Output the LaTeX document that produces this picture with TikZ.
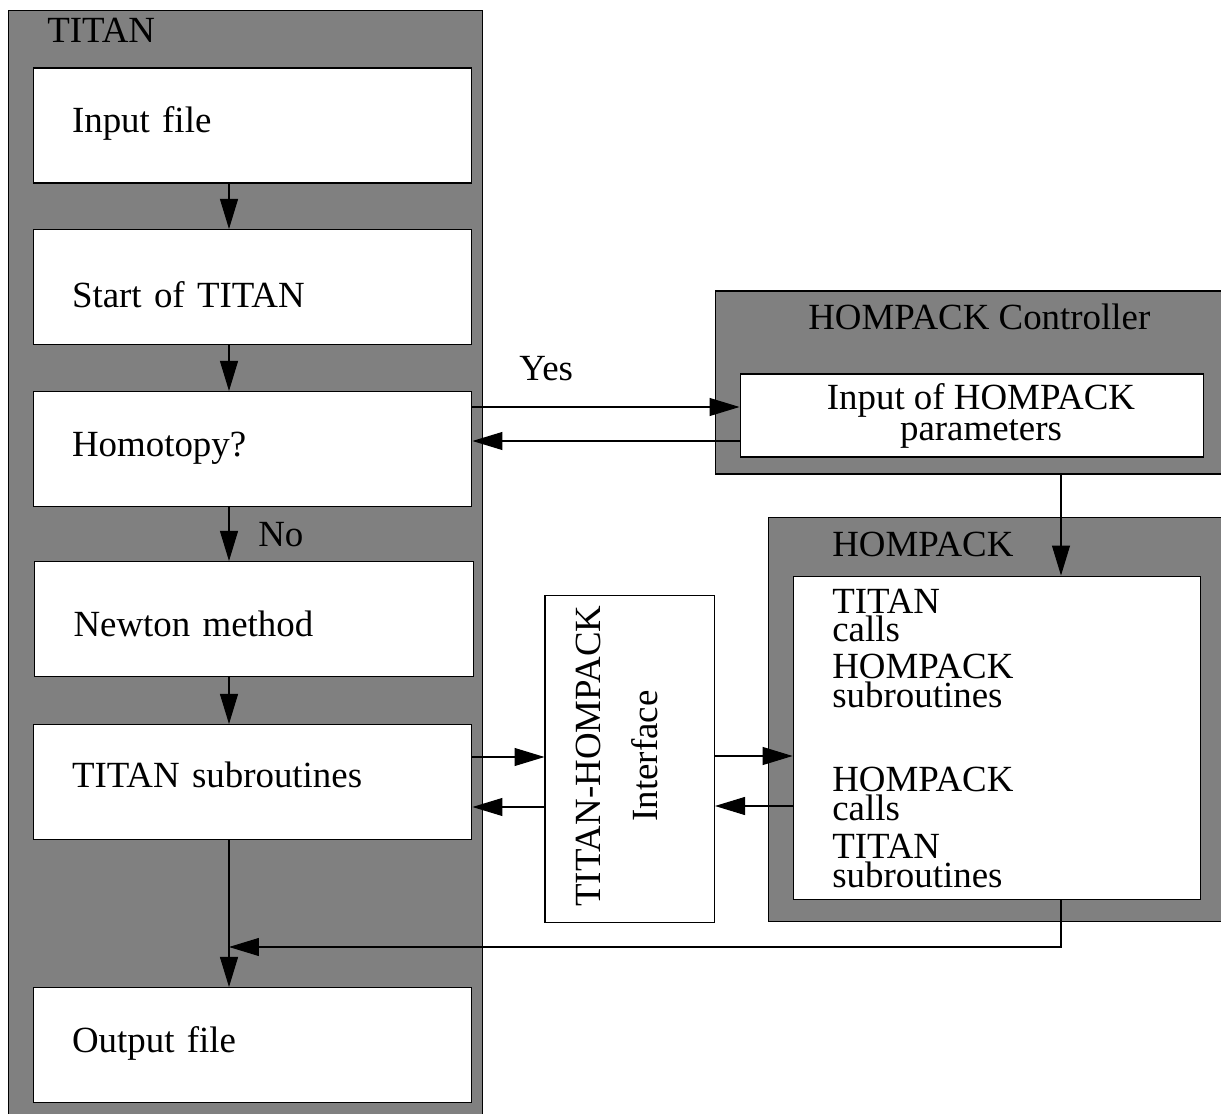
\documentclass[tikz,border=0pt]{standalone}
\usepackage{fontspec}
\setmainfont{Liberation Serif}
\usetikzlibrary{arrows.meta}
\definecolor{panelGray}{gray}{0.50}

\begin{document}
\begin{tikzpicture}[x=0.02cm, y=-0.02cm,
      font=\fontsize{21pt}{25pt}\selectfont,
      panel/.style={draw=black, fill=panelGray, line width=0.6pt, inner sep=0pt},
      stepbox/.style={draw=black, fill=white, line width=0.6pt,
                      minimum width=8.78cm, minimum height=2.3cm, text width=7.22cm,
                      inner xsep=0.78cm, inner ysep=0pt, align=left,
                      text height=0.46cm, text depth=0.16cm},
      plainbox/.style={draw=black, fill=white, line width=0.6pt, inner sep=0pt},
      lbl/.style={inner sep=0pt, anchor=base west},
      pairlbl/.style={inner sep=0pt, anchor=base west, align=left,
                      font=\fontsize{21pt}{16.2pt}\selectfont},
      flow/.style={-{Triangle[length=0.6cm, width=0.36cm]}, line width=0.6pt}]
    \clip (0,0) rectangle (1221,1114);
    \node[panel, minimum width=9.5cm, minimum height=22.4cm] (titanPanel) at (245.5,570) {};
    \node[panel, minimum width=10.49cm, minimum height=3.66cm] (ctrlPanel) at (977.75,382.5) {};
    \node[panel, minimum width=9.43cm, minimum height=8.1cm] (hpPanel) at (1004.3,719.5) {};
    \node[lbl] (titanLbl) at (47,43) {TITAN};
    \node[lbl] (ctrlLbl) at (808,330) {HOMPACK Controller};
    \node[lbl] (hpLbl) at (832,557) {HOMPACK};

    \node[stepbox] (inFile) at (252.5,125.5) {Input file};
    \node[stepbox, text height=1.0cm] (startTitan) at (252.5,287) {Start of TITAN};
    \node[stepbox] (homotopy) at (252.5,449) {Homotopy?};
    \node[stepbox, text height=0.87cm] (newton) at (254,619) {Newton method};
    \node[stepbox, text height=0.39cm] (titanSubs) at (252.5,782) {TITAN subroutines};
    \node[stepbox, text height=0.44cm] (outFile) at (252.5,1045) {Output file};

    \node[plainbox, minimum width=9.28cm, minimum height=1.66cm, align=center,
          font=\fontsize{21pt}{17.6pt}\selectfont] (hpInput) at (972,415.5)
          {\hspace*{0.36cm}Input of HOMPACK\\\hspace*{0.36cm}parameters};
    \node[plainbox, minimum width=3.39cm, minimum height=6.56cm] (iface) at (629.75,759) {};
    \node[inner sep=0pt, rotate=90, align=center,
          font=\fontsize{21pt}{32.4pt}\selectfont] (ifaceTxt) at (617,756)
          {TITAN-HOMPACK\\Interface};
    \node[plainbox, minimum width=8.15cm, minimum height=6.48cm] (hpCore) at (996.85,738) {};
    \foreach \txt/\yy [count=\k] in {{TITAN\\calls}/642, {HOMPACK\\subroutines}/707,
                                     {HOMPACK\\calls}/820, {TITAN\\subroutines}/887}
      \node[pairlbl] (hpLine\k) at (832,\yy) {\txt};

    \node[lbl] (yesLbl) at (519,381) {Yes};
    \node[lbl] (noLbl) at (258,547) {No};

    \foreach \a/\b in {inFile/startTitan, startTitan/homotopy, homotopy/newton,
                       newton/titanSubs, titanSubs/outFile}
      \draw[flow] ([xshift=-0.47cm]\a.south -| inFile.south) -- ([xshift=-0.47cm]\b.north -| inFile.north);
    \draw[flow] (homotopy.east |- 0,407) -- (hpInput.west |- 0,407);
    \draw[flow] (hpInput.west |- 0,441) -- (homotopy.east |- 0,441);
    \draw[flow] (titanSubs.east |- 0,757) -- (iface.west |- 0,757);
    \draw[flow] (iface.west |- 0,807) -- (titanSubs.east |- 0,807);
    \draw[flow] (iface.east |- 0,756) -- (hpCore.west |- 0,756);
    \draw[flow] (hpCore.west |- 0,806) -- (iface.east |- 0,806);
    \coordinate (ctrlDrop) at (1061,474);
    \draw[flow] (ctrlPanel.south -| ctrlDrop) -- (hpCore.north -| ctrlDrop);
    \coordinate (mergePt) at (229,947);
    \draw[flow] (hpCore.south -| ctrlDrop) |- (mergePt);
  \end{tikzpicture}
\end{document}
